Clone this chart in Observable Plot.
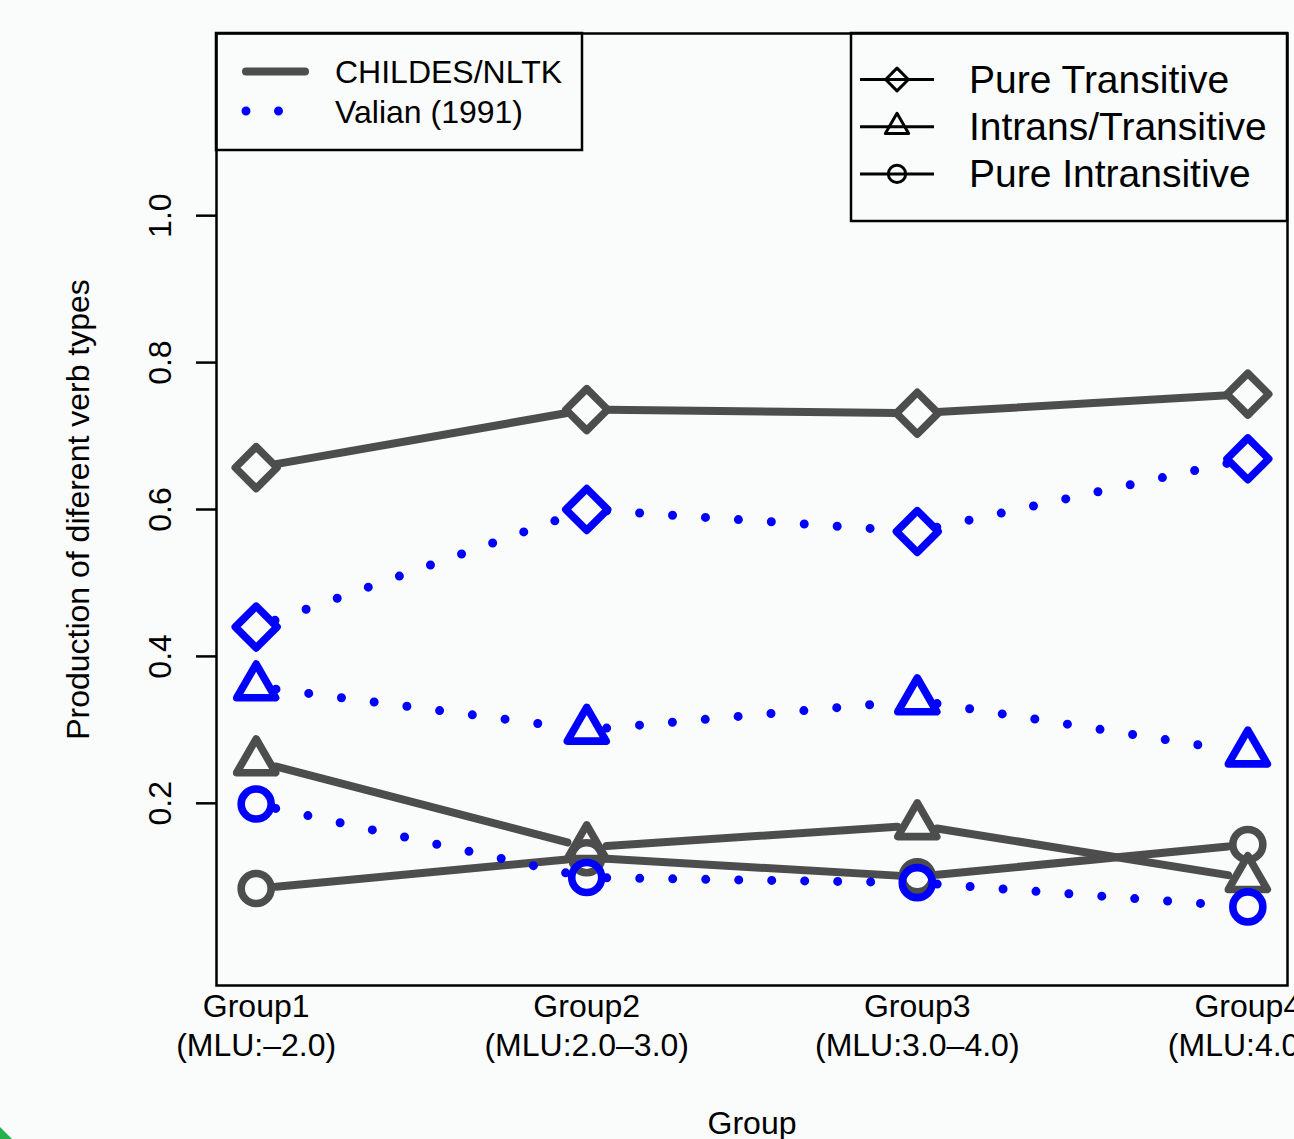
<!DOCTYPE html>
<html>
<head>
<meta charset="utf-8">
<script src="https://cdn.jsdelivr.net/npm/d3@7"></script>
<script src="https://cdn.jsdelivr.net/npm/@observablehq/plot@0.6"></script>
<style>
  html, body { margin: 0; padding: 0; background: #fafbfb; overflow: hidden; }
  #chart { position: relative; width: 1294px; height: 1139px; }
  #corner { position: absolute; left: 0; top: 1127px; width: 12px; height: 12px; background: #22b14c; clip-path: polygon(0 0, 100% 100%, 0 100%); }
</style>
</head>
<body>
<div id="chart"></div>
<script>
// ---- data ----
const groups = [1, 2, 3, 4];
const groupLabels = ["Group1\n(MLU:\u20132.0)", "Group2\n(MLU:2.0\u20133.0)", "Group3\n(MLU:3.0\u20134.0)", "Group4\n(MLU:4.0\u2013)"];
const yTicks = [0.2, 0.4, 0.6, 0.8, 1.0];
const sources = ["CHILDES/NLTK", "Valian (1991)"];
const verbTypes = ["Pure Transitive", "Intrans/Transitive", "Pure Intransitive"];

const childesPureTransitive   = [0.657, 0.736, 0.731, 0.757];
const childesIntransTransitive = [0.257, 0.140, 0.170, 0.098];
const childesPureIntransitive = [0.084, 0.126, 0.100, 0.144];
const valianPureTransitive    = [0.440, 0.600, 0.570, 0.669];
const valianIntransTransitive = [0.359, 0.300, 0.340, 0.269];
const valianPureIntransitive  = [0.199, 0.099, 0.092, 0.059];

const xTitle = "Group";
const yTitle = "Production of diferent verb types";

// ---- styles ----
const bg = "#fafbfb";
const gray = "#4d4d4d";
const blue = "#0000ff";
const font = "'Liberation Sans', Arial, Helvetica, sans-serif";
const symbolOf = {"Pure Transitive": "diamond2", "Intrans/Transitive": "triangle2", "Pure Intransitive": "circle"};
const radiusOf = {"Pure Transitive": 18.8, "Intrans/Transitive": 18.6, "Pure Intransitive": 15};

const seriesValues = {
  "CHILDES/NLTK": {"Pure Transitive": childesPureTransitive, "Intrans/Transitive": childesIntransTransitive, "Pure Intransitive": childesPureIntransitive},
  "Valian (1991)": {"Pure Transitive": valianPureTransitive, "Intrans/Transitive": valianIntransTransitive, "Pure Intransitive": valianPureIntransitive}
};

const points = [];
const segments = [];
for (const s of sources) for (const t of verbTypes) {
  const vals = seriesValues[s][t];
  groups.forEach((g, i) => points.push({source: s, type: t, g, value: vals[i]}));
  for (let i = 0; i < groups.length - 1; i++)
    segments.push({source: s, type: t, g1: groups[i], v1: vals[i], g2: groups[i + 1], v2: vals[i + 1]});
}

const marginLeft = 216, marginRight = 7, marginTop = 33, marginBottom = 154;
const W = 1294, H = 1139;

const marks = [
  Plot.frame({stroke: "black", strokeWidth: 2.5}),
  Plot.axisY({ticks: yTicks, tickSize: 20, tickFormat: () => "", strokeWidth: 2.5, label: null}),
  Plot.text(yTicks, {y: d => d, frameAnchor: "left", dx: -56, rotate: -90, text: d => d.toFixed(1),
    textAnchor: "middle", lineAnchor: "middle", fontSize: 32, fill: "black"}),
  Plot.text([yTitle], {frameAnchor: "left", dx: -138, rotate: -90, text: d => d,
    textAnchor: "middle", lineAnchor: "middle", fontSize: 32, fill: "black"}),
  Plot.text(groupLabels, {x: (d, i) => groups[i], text: d => d, frameAnchor: "bottom", lineAnchor: "top",
    dy: 4, lineHeight: 1.22, fontSize: 32, fill: "black"}),
  Plot.text([xTitle], {text: d => d, frameAnchor: "bottom", lineAnchor: "top", dy: 126, fontSize: 32, fill: "black"})
];

for (const s of sources) {
  const isV = s === "Valian (1991)";
  marks.push(Plot.arrow(segments.filter(d => d.source === s), {
    x1: "g1", y1: "v1", x2: "g2", y2: "v2", headLength: 0, inset: 20,
    stroke: isV ? blue : gray, strokeWidth: isV ? 9 : 8, strokeLinecap: "round",
    strokeDasharray: isV ? "0 33" : null
  }));
  for (const t of verbTypes) {
    marks.push(Plot.dot(points.filter(d => d.source === s && d.type === t), {
      x: "g", y: "value", symbol: () => symbolOf[t], r: radiusOf[t], fill: "none",
      stroke: isV ? blue : gray, strokeWidth: 7.6, strokeLinejoin: "round"
    }));
  }
}

const plot = Plot.plot({
  width: W, height: H,
  marginLeft, marginRight, marginTop, marginBottom,
  x: {type: "linear", domain: [0.88, 4.12], axis: null},
  y: {type: "linear", domain: [-0.048, 1.248], axis: null},
  symbol: {type: "identity"},
  style: {background: bg, fontFamily: font, fontSize: "32px", color: "black"},
  marks
});
document.getElementById("chart").appendChild(plot);

// ---- legends (drawn inside the plot frame, like R's legend()) ----
const svg = d3.select(plot);
const lg = svg.append("g").attr("font-family", font).attr("fill", "black").attr("text-anchor", "start");

// top-left legend
const L1 = {x: marginLeft, y: marginTop, w: 366, h: 117};
lg.append("rect").attr("x", L1.x).attr("y", L1.y).attr("width", L1.w).attr("height", L1.h)
  .attr("fill", "none").attr("stroke", "black").attr("stroke-width", 2.5);
lg.append("line").attr("x1", L1.x + 30).attr("x2", L1.x + 89).attr("y1", L1.y + 38.5).attr("y2", L1.y + 38.5)
  .attr("stroke", gray).attr("stroke-width", 8).attr("stroke-linecap", "round");
lg.append("line").attr("x1", L1.x + 30).attr("x2", L1.x + 65).attr("y1", L1.y + 78).attr("y2", L1.y + 78)
  .attr("stroke", blue).attr("stroke-width", 9).attr("stroke-linecap", "round").attr("stroke-dasharray", "0 32.5");
lg.append("text").attr("x", L1.x + 119).attr("y", L1.y + 50).attr("font-size", 32).attr("text-anchor", "start").text(sources[0]);
lg.append("text").attr("x", L1.x + 119).attr("y", L1.y + 90).attr("font-size", 32).attr("text-anchor", "start").text(sources[1]);

// top-right legend
const L2 = {x: W - marginRight - 436, y: marginTop, w: 436, h: 188};
lg.append("rect").attr("x", L2.x).attr("y", L2.y).attr("width", L2.w).attr("height", L2.h)
  .attr("fill", "none").attr("stroke", "black").attr("stroke-width", 2.5);
const legSym = {"Pure Transitive": [d3.symbolDiamond2, 330], "Intrans/Transitive": [d3.symbolTriangle2, 390], "Pure Intransitive": [d3.symbolCircle, 235]};
verbTypes.forEach((t, i) => {
  const cy = L2.y + 46.5 + i * 47.2;
  lg.append("line").attr("x1", L2.x + 9).attr("x2", L2.x + 83).attr("y1", cy).attr("y2", cy)
    .attr("stroke", "black").attr("stroke-width", 3);
  lg.append("path").attr("d", d3.symbol(legSym[t][0], legSym[t][1])())
    .attr("transform", `translate(${L2.x + 46},${cy})`)
    .attr("fill", "none").attr("stroke", "black").attr("stroke-width", 3).attr("stroke-linejoin", "round");
  lg.append("text").attr("x", L2.x + 118).attr("y", cy + 13).attr("font-size", 39).attr("text-anchor", "start").text(t);
});
</script>
<div id="corner"></div>
</body>
</html>
